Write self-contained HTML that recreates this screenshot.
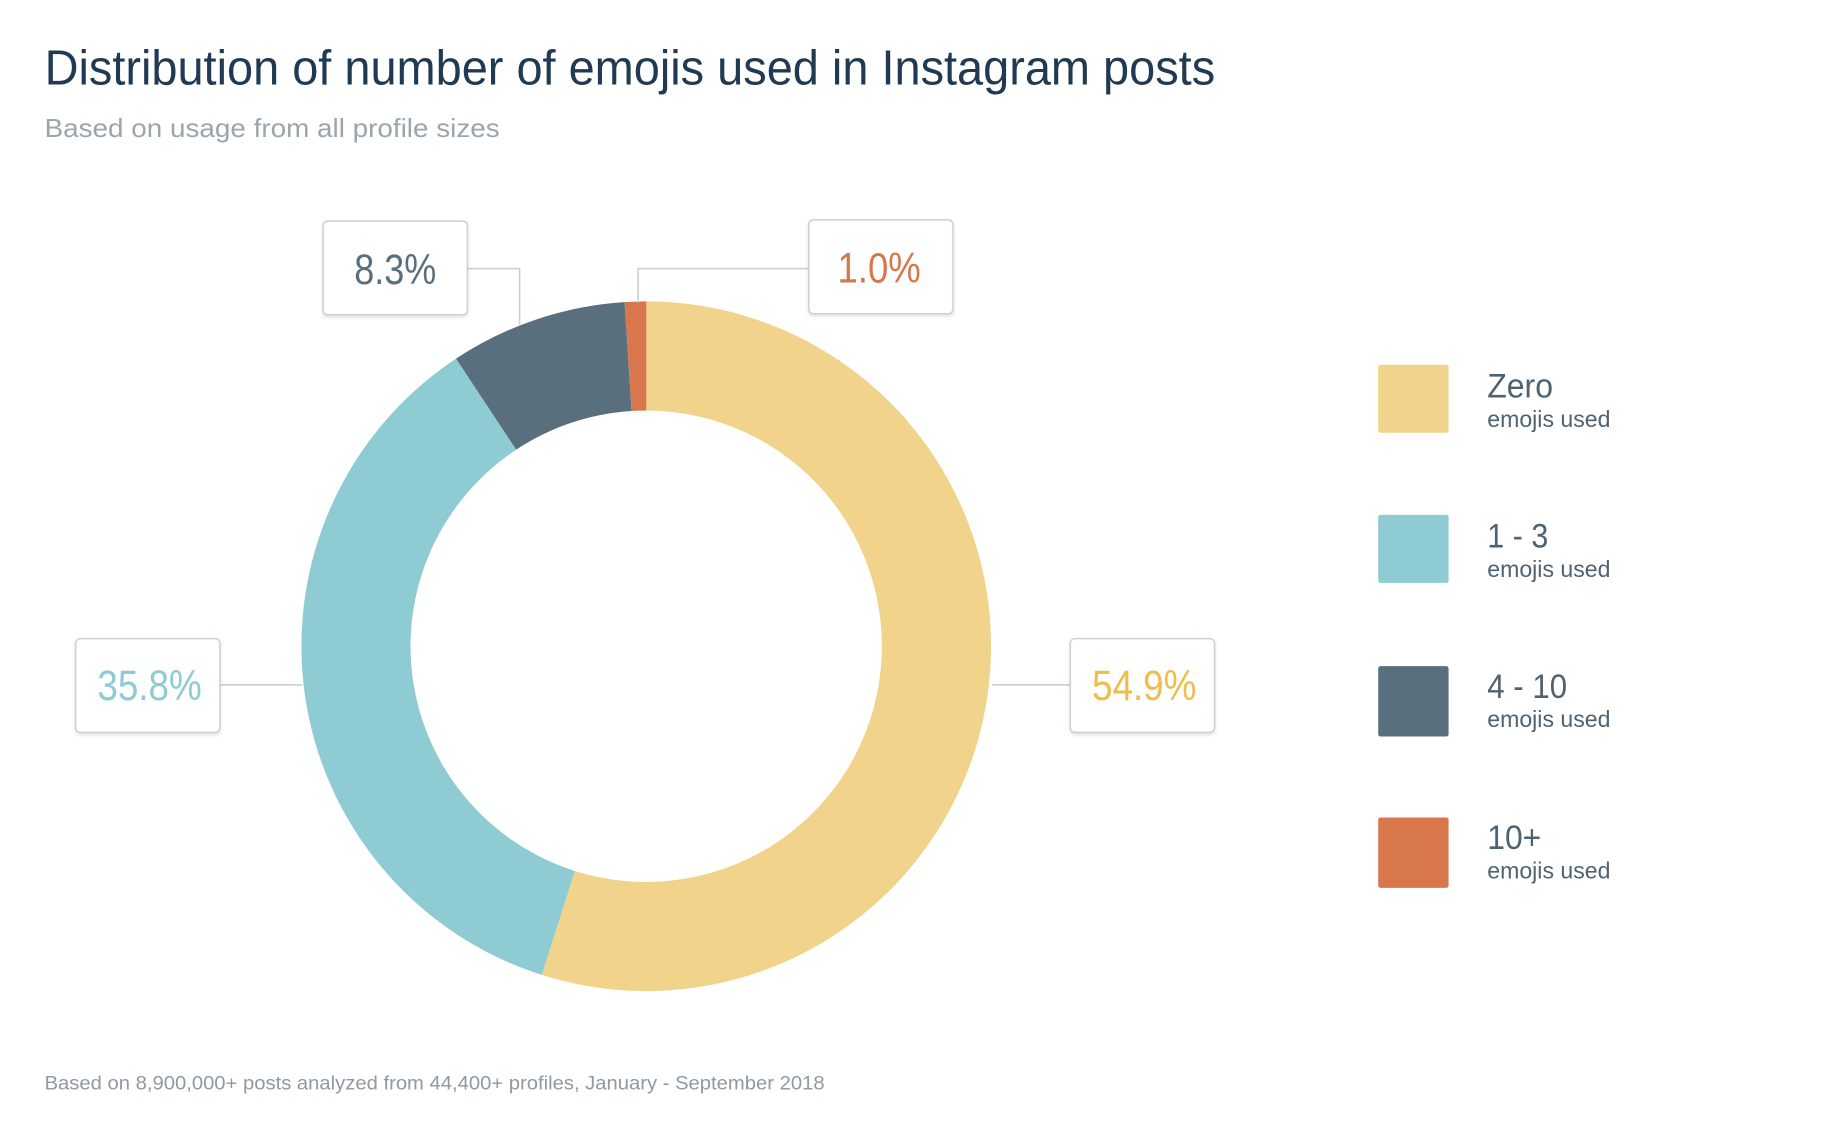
<!DOCTYPE html>
<html><head><meta charset="utf-8"><style>
html,body{margin:0;padding:0;background:#fff;}
svg{display:block;}
text{font-family:"Liberation Sans Narrow","Liberation Sans",sans-serif;}
</style></head><body>
<svg width="1838" height="1140" viewBox="0 0 1567 972" preserveAspectRatio="none" xmlns="http://www.w3.org/2000/svg">
<defs><filter id="sh" x="-10%" y="-10%" width="120%" height="130%"><feDropShadow dx="0" dy="1.5" stdDeviation="1.5" flood-color="#000" flood-opacity="0.12"/></filter></defs>
<rect width="1567" height="972" fill="#fff"/>
<text x="38" y="72" font-size="42" fill="#1f3a52" textLength="998" lengthAdjust="spacingAndGlyphs">Distribution of number of emojis used in Instagram posts</text>
<text x="38" y="117" font-size="22" fill="#9aa5ae" textLength="388" lengthAdjust="spacingAndGlyphs">Based on usage from all profile sizes</text>
<text x="38" y="929" font-size="16.5" fill="#8e99a3" textLength="665" lengthAdjust="spacingAndGlyphs">Based on 8,900,000+ posts analyzed from 44,400+ profiles, January - September 2018</text>

<path d="M551,257 A294,294 0 1 1 461.9,831.2 L490.1,742.6 A201,201 0 1 0 551,350 Z" fill="#f2d38b"/>
<path d="M461.9,831.2 A294,294 0 0 1 388.8,305.8 L440.1,383.4 A201,201 0 0 0 490.1,742.6 Z" fill="#8ecbd2"/>
<path d="M388.8,305.8 A294,294 0 0 1 532.5,257.6 L538.4,350.4 A201,201 0 0 0 440.1,383.4 Z" fill="#5a6f7e"/>
<path d="M532.5,257.6 A294,294 0 0 1 551,257 L551,350 A201,201 0 0 0 538.4,350.4 Z" fill="#d9774c"/>

<g fill="none" stroke="#c6ced4" stroke-width="1.3">
<polyline points="398,229 443,229 443,277"/>
<polyline points="689,229 544,229 544,258"/>
<line x1="187" y1="584" x2="258" y2="584"/>
<line x1="846" y1="584" x2="912" y2="584"/>
</g>
<g fill="#fff" stroke="#c9d1d7" stroke-width="1.3" filter="url(#sh)">
<rect x="275.5" y="188.5" width="123" height="80" rx="4"/>
<rect x="689.5" y="187.5" width="123" height="80" rx="4"/>
<rect x="64.5" y="544.5" width="123" height="80" rx="4"/>
<rect x="912.5" y="544.5" width="123" height="80" rx="4"/>
</g>
<g font-size="36">
<text x="302" y="242" fill="#5a6f7e" textLength="70" lengthAdjust="spacingAndGlyphs">8.3%</text>
<text x="714" y="241" fill="#d9774c" textLength="71" lengthAdjust="spacingAndGlyphs">1.0%</text>
<text x="83" y="597" fill="#8ecbd2" textLength="89" lengthAdjust="spacingAndGlyphs">35.8%</text>
<text x="931" y="597" fill="#efbd4a" textLength="89" lengthAdjust="spacingAndGlyphs">54.9%</text>
</g>

<rect x="1175" y="311" width="60" height="58" rx="2" fill="#f2d38b"/>
<rect x="1175" y="439" width="60" height="58" rx="2" fill="#8ecbd2"/>
<rect x="1175" y="568" width="60" height="60" rx="2" fill="#5a6f7e"/>
<rect x="1175" y="697" width="60" height="60" rx="2" fill="#d9774c"/>
<g fill="#4f6272">
<text x="1268" y="339" font-size="29" textLength="56" lengthAdjust="spacingAndGlyphs">Zero</text>
<text x="1268" y="364" font-size="20" textLength="105" lengthAdjust="spacingAndGlyphs">emojis used</text>
<text x="1268" y="467" font-size="29" textLength="52" lengthAdjust="spacingAndGlyphs">1 - 3</text>
<text x="1268" y="492" font-size="20" textLength="105" lengthAdjust="spacingAndGlyphs">emojis used</text>
<text x="1268" y="595" font-size="29" textLength="68" lengthAdjust="spacingAndGlyphs">4 - 10</text>
<text x="1268" y="620" font-size="20" textLength="105" lengthAdjust="spacingAndGlyphs">emojis used</text>
<text x="1268" y="724" font-size="29" textLength="46" lengthAdjust="spacingAndGlyphs">10+</text>
<text x="1268" y="749" font-size="20" textLength="105" lengthAdjust="spacingAndGlyphs">emojis used</text>
</g>
</svg>
</body></html>
